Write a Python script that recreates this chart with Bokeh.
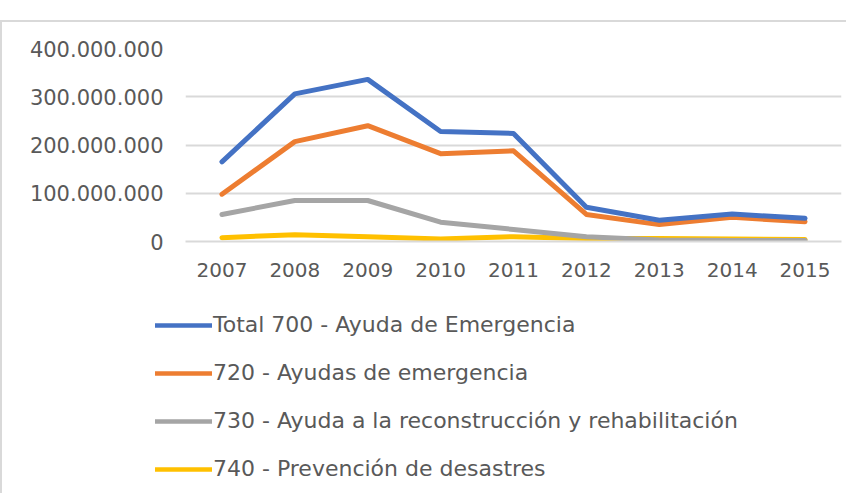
from bokeh.plotting import figure
from bokeh.layouts import column, row
from bokeh.models import Range1d, FixedTicker, CustomJSTickFormatter, Legend, LegendItem
from bokeh.embed import file_html
from bokeh.resources import INLINE

years = ["2007", "2008", "2009", "2010", "2011", "2012", "2013", "2014", "2015"]
total_700 = [165e6, 306e6, 336e6, 228e6, 224e6, 71e6, 44e6, 57e6, 48e6]
ayudas_720 = [98e6, 207e6, 240e6, 182e6, 188e6, 56e6, 35e6, 50e6, 41e6]
reconst_730 = [56e6, 85e6, 85e6, 40e6, 25e6, 10e6, 3e6, 2e6, 2e6]
prevencion_740 = [8e6, 14e6, 10e6, 5e6, 10e6, 6e6, 6e6, 5e6, 4e6]
y_ticks = [0, 100e6, 200e6, 300e6, 400e6]

series_names = ["Total 700 - Ayuda de Emergencia", "720 - Ayudas de emergencia",
                "730 - Ayuda a la reconstrucción y rehabilitación", "740 - Prevención de desastres"]
series_values = [total_700, ayudas_720, reconst_730, prevencion_740]
colors = ["#4472C4", "#ED7D31", "#A5A5A5", "#FFC000"]

FONT = "DejaVu Sans"
TXT = "#595959"

p = figure(x_range=years, y_range=Range1d(0, 400e6), width=844, height=288,
           output_backend="svg", toolbar_location=None,
           min_border_left=183, min_border_right=5, min_border_top=26, min_border_bottom=69)
p.outline_line_color = None

# draw bottom series first so Total is on top
for vals, col in reversed(list(zip(series_values, colors))):
    p.line(years, vals, line_color=col, line_width=5, line_join="round", line_cap="round")

p.yaxis.ticker = FixedTicker(ticks=y_ticks)
p.yaxis.formatter = CustomJSTickFormatter(code="""
return tick.toFixed(0).replace(/\\B(?=(\\d{3})+(?!\\d))/g, '.');
""")
p.yaxis.axis_line_color = None
p.yaxis.major_tick_line_color = None
p.yaxis.minor_tick_line_color = None
p.yaxis.major_label_standoff = 16
p.xaxis.axis_line_color = "#d9d9d9"
p.xaxis.axis_line_width = 2
p.xaxis.major_tick_line_color = None
p.xaxis.major_label_standoff = 15
for ax in (p.xaxis, p.yaxis):
    ax.major_label_text_font = FONT
    ax.major_label_text_font_size = "20px"
    ax.major_label_text_color = TXT
p.yaxis.major_label_text_font_size = "21px"

p.xgrid.grid_line_color = None
p.ygrid.ticker = FixedTicker(ticks=y_ticks)
p.ygrid.grid_line_color = "#d9d9d9"
p.ygrid.grid_line_width = 2

# legend panel: same series, drawn outside its visible y range, only the legend shows
p2 = figure(x_range=years, y_range=Range1d(-2e9, -1e9), width=844, height=183,
            output_backend="svg", toolbar_location=None,
            min_border_left=0, min_border_right=0, min_border_top=0, min_border_bottom=0)
p2.axis.visible = False
p2.grid.visible = False
p2.outline_line_color = None
items = []
for name, vals, col in zip(series_names, series_values, colors):
    r = p2.line(years, vals, line_color=col, line_width=4.5, line_cap="round")
    items.append(LegendItem(label=name, renderers=[r]))
legend = Legend(items=items, location=(153, 12), orientation="vertical",
                label_text_font=FONT, label_text_font_size="22px", label_text_color=TXT,
                glyph_width=57, glyph_height=24, label_height=24, spacing=23,
                label_standoff=1, padding=0, margin=0, border_line_color=None,
                background_fill_alpha=0)
p2.add_layout(legend, "center")

layout = column(p, row(p2), spacing=0)
layout.styles = {"border-top": "2px solid #d9d9d9", "border-left": "2px solid #d9d9d9",
                 "margin-top": "20px"}

open("out.html", "w").write(file_html(layout, INLINE))
